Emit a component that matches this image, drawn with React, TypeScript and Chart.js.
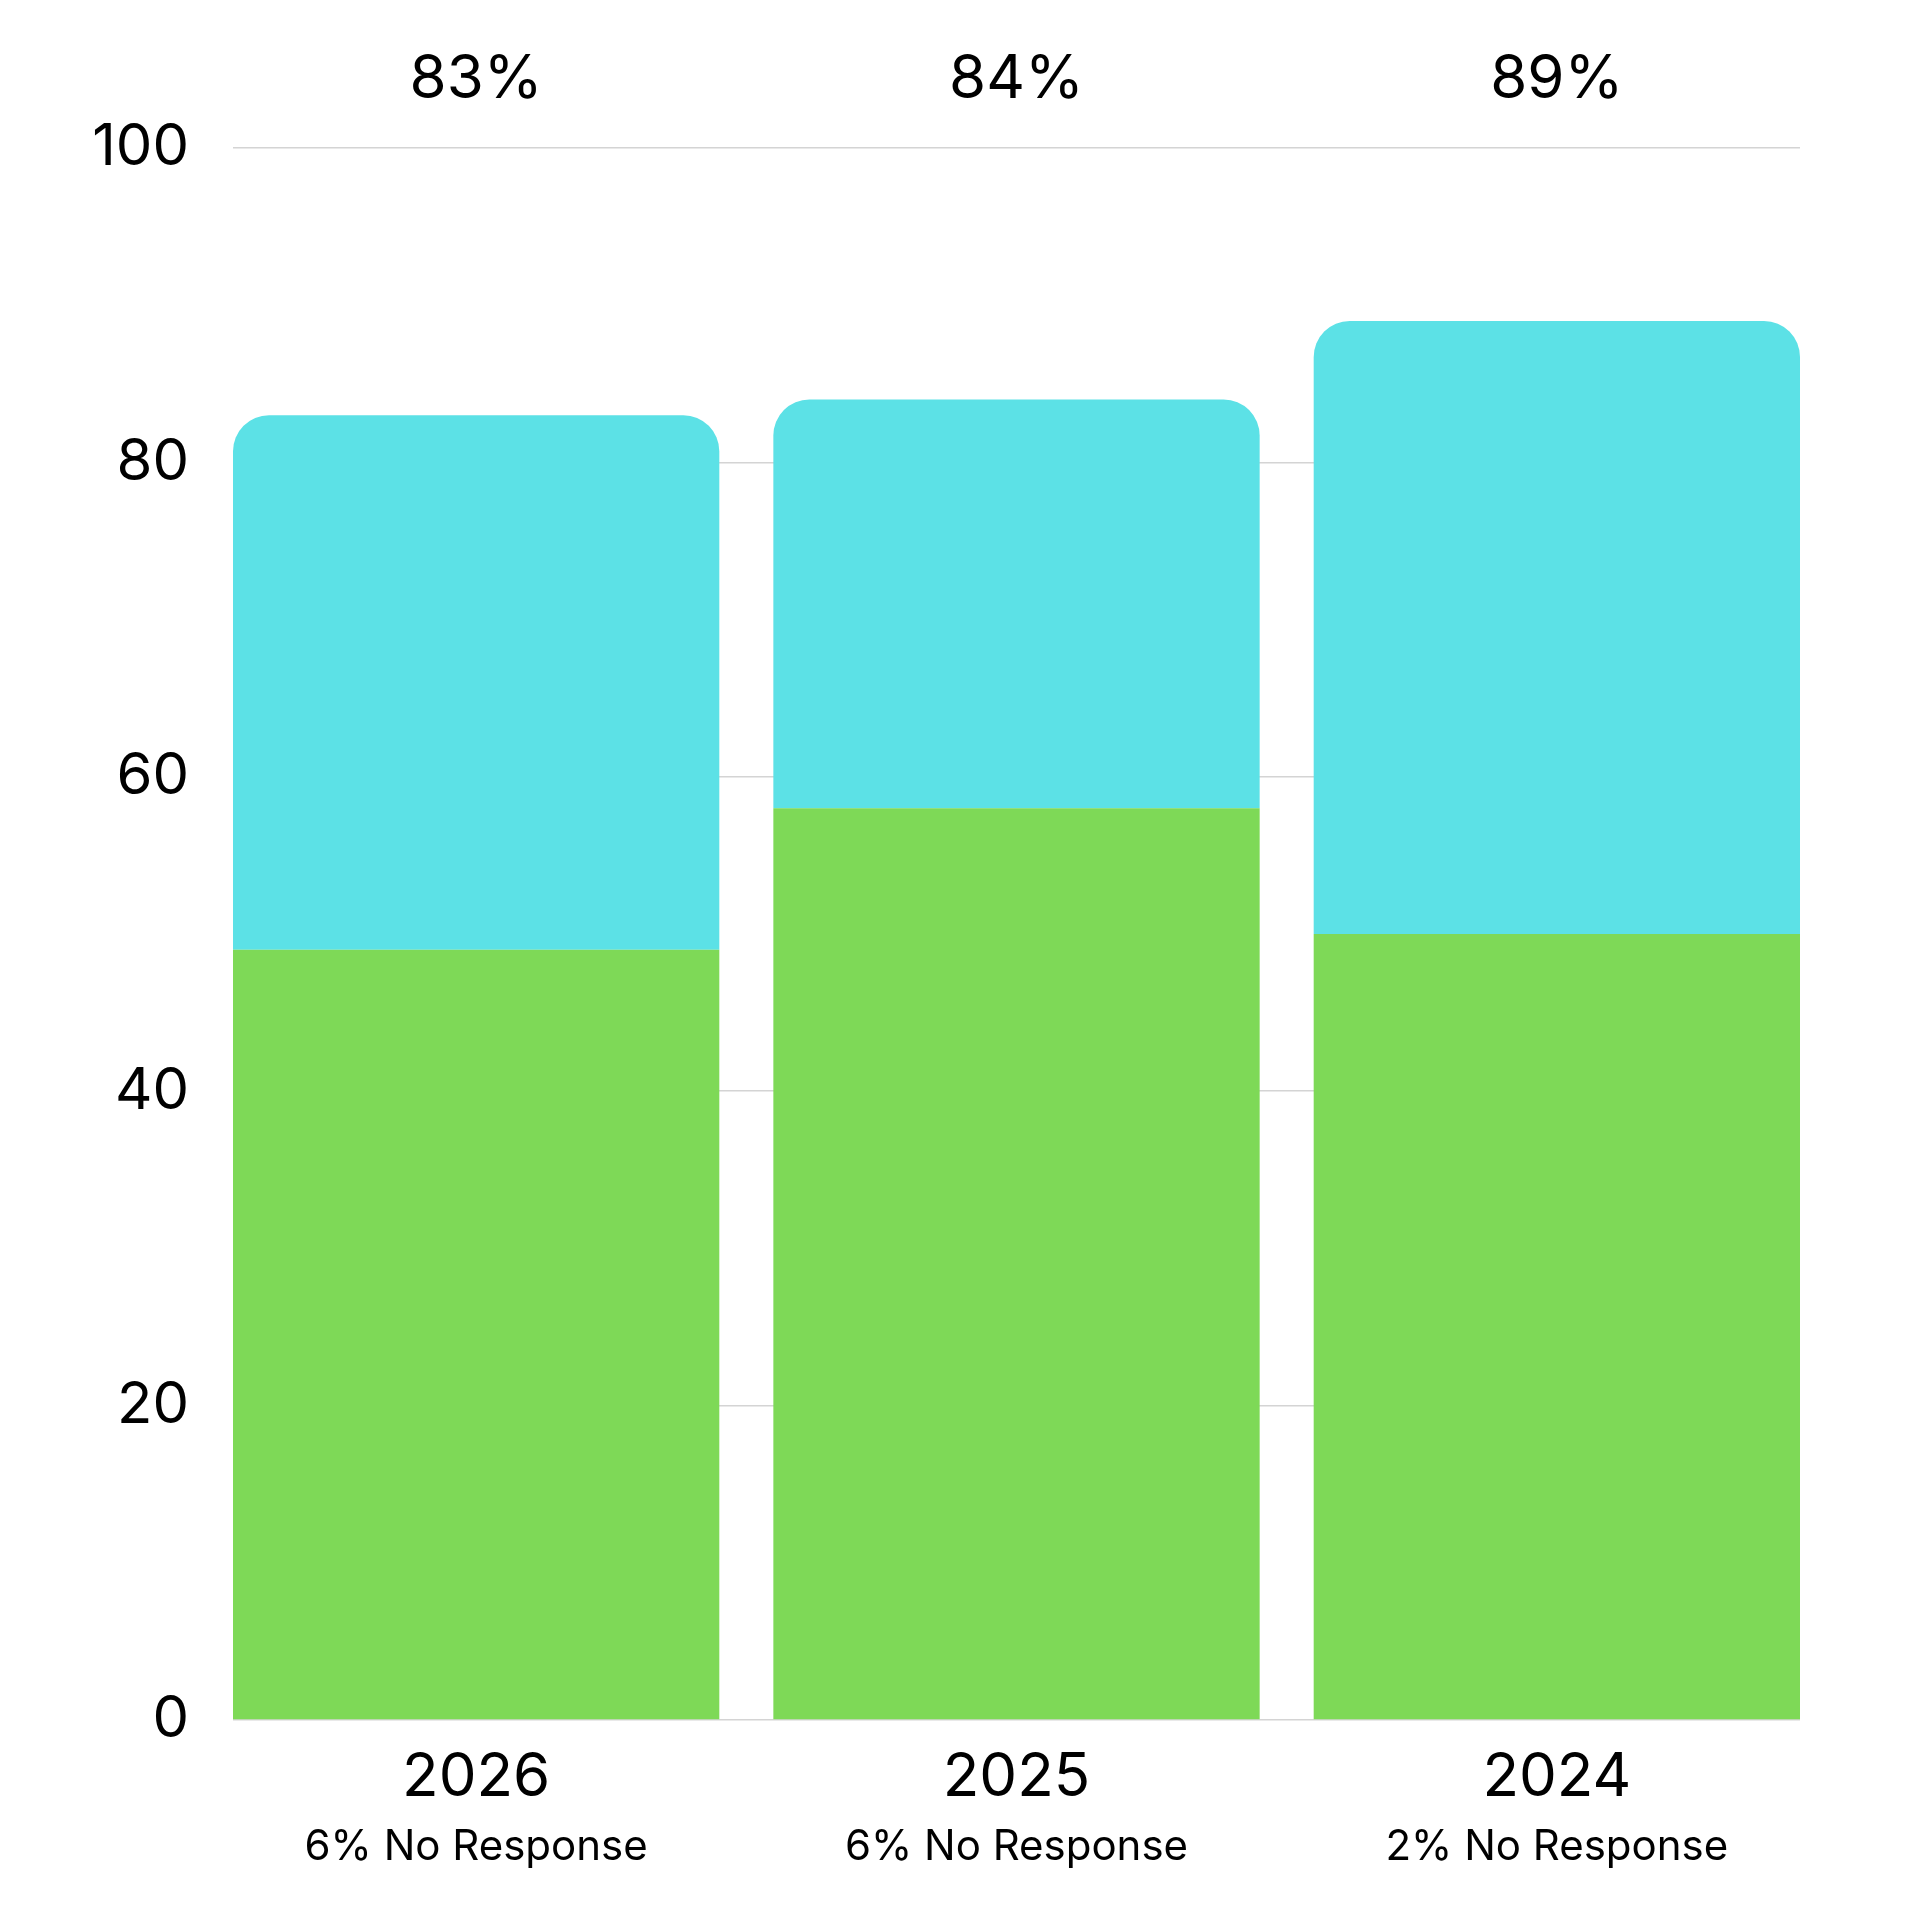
import React, { useEffect, useRef } from 'react';
import { Chart, registerables } from 'chart.js';

Chart.register(...registerables);

// ===== data =====
const years = ['2026', '2025', '2024'];
const noResponse = ['6% No Response', '6% No Response', '2% No Response'];
const lowerValues = [49, 58, 50];
const upperValues = [34, 26, 39];
const yTicks = [0, 20, 40, 60, 80, 100];

const GREEN = '#7ED957';
const CYAN = '#5CE1E6';
const FONT = 'Inter, "Noto Sans", sans-serif';

// total % above each bar + "No Response" line under the year
const labelsPlugin = {
  id: 'extraLabels',
  afterDraw(chart: any) {
    const { ctx } = chart;
    const xScale = chart.scales.x;
    ctx.save();
    ctx.fillStyle = '#000';
    ctx.textAlign = 'center';
    ctx.textBaseline = 'middle';
    years.forEach((_, i) => {
      const x = xScale.getPixelForValue(i);
      const total = lowerValues[i] + upperValues[i];
      ctx.font = `60px ${FONT}`;
      ctx.fillText(`${total}%`, x, 80);
      ctx.font = `42px ${FONT}`;
      ctx.fillText(noResponse[i], x, 1847);
    });
    ctx.restore();
  },
};

function StackedChart() {
  const canvasRef = useRef<HTMLCanvasElement>(null);
  const chartRef = useRef<Chart | null>(null);

  useEffect(() => {
    if (!canvasRef.current) return;
    const ctx = canvasRef.current.getContext('2d');
    if (!ctx) return;

    chartRef.current = new Chart(ctx, {
      type: 'bar',
      data: {
        datasets: [
          {
            data: lowerValues.map((v, i) => ({ x: i, y: v })),
            backgroundColor: GREEN,
            borderWidth: 0,
          },
          {
            data: upperValues.map((v, i) => ({ x: i, y: v })),
            backgroundColor: CYAN,
            borderWidth: 0,
            borderSkipped: false,
            borderRadius: { topLeft: 36, topRight: 36, bottomLeft: 0, bottomRight: 0 },
          },
        ],
      },
      options: {
        animation: false,
        responsive: false,
        maintainAspectRatio: false,
        devicePixelRatio: 1,
        layout: { padding: { top: 148, right: 120, left: 0, bottom: 0 } },
        datasets: { bar: { categoryPercentage: 1, barPercentage: 0.9 } },
        plugins: {
          legend: { display: false },
          tooltip: { enabled: false },
        },
        scales: {
          x: {
            type: 'linear',
            stacked: true,
            offset: false,
            min: -0.45,
            max: years.length - 0.55,
            afterBuildTicks(axis: any) { axis.ticks = years.map((_, i) => ({ value: i })); },
            grid: { display: false, drawTicks: false, offset: false },
            border: { display: false },
            ticks: {
              color: '#000',
              font: { family: FONT, size: 60 },
              padding: 22,
              callback: (v: any) => years[v as number] ?? '',
            },
            afterFit(axis: any) { axis.height = 200; },
          },
          y: {
            stacked: true,
            min: 0,
            max: 100,
            afterBuildTicks(axis: any) { axis.ticks = yTicks.map(v => ({ value: v })); },
            grid: { color: '#d4d4d4', lineWidth: 1.5, drawTicks: false },
            border: { display: false },
            ticks: { color: '#000', font: { family: FONT, size: 58 }, padding: 44 },
            afterFit(axis: any) { axis.width = 233; },
          },
        },
      },
      plugins: [labelsPlugin],
    });

    return () => {
      if (chartRef.current) {
        chartRef.current.destroy();
        chartRef.current = null;
      }
    };
  }, []);

  return <canvas ref={canvasRef} width={1920} height={1920} style={{ display: 'block' }} />;
}

export default function App() {
  return (
    <div style={{ position: 'absolute', left: 0, top: 0, width: 1920, height: 1920, background: '#fff' }}>
      <StackedChart />
    </div>
  );
}
